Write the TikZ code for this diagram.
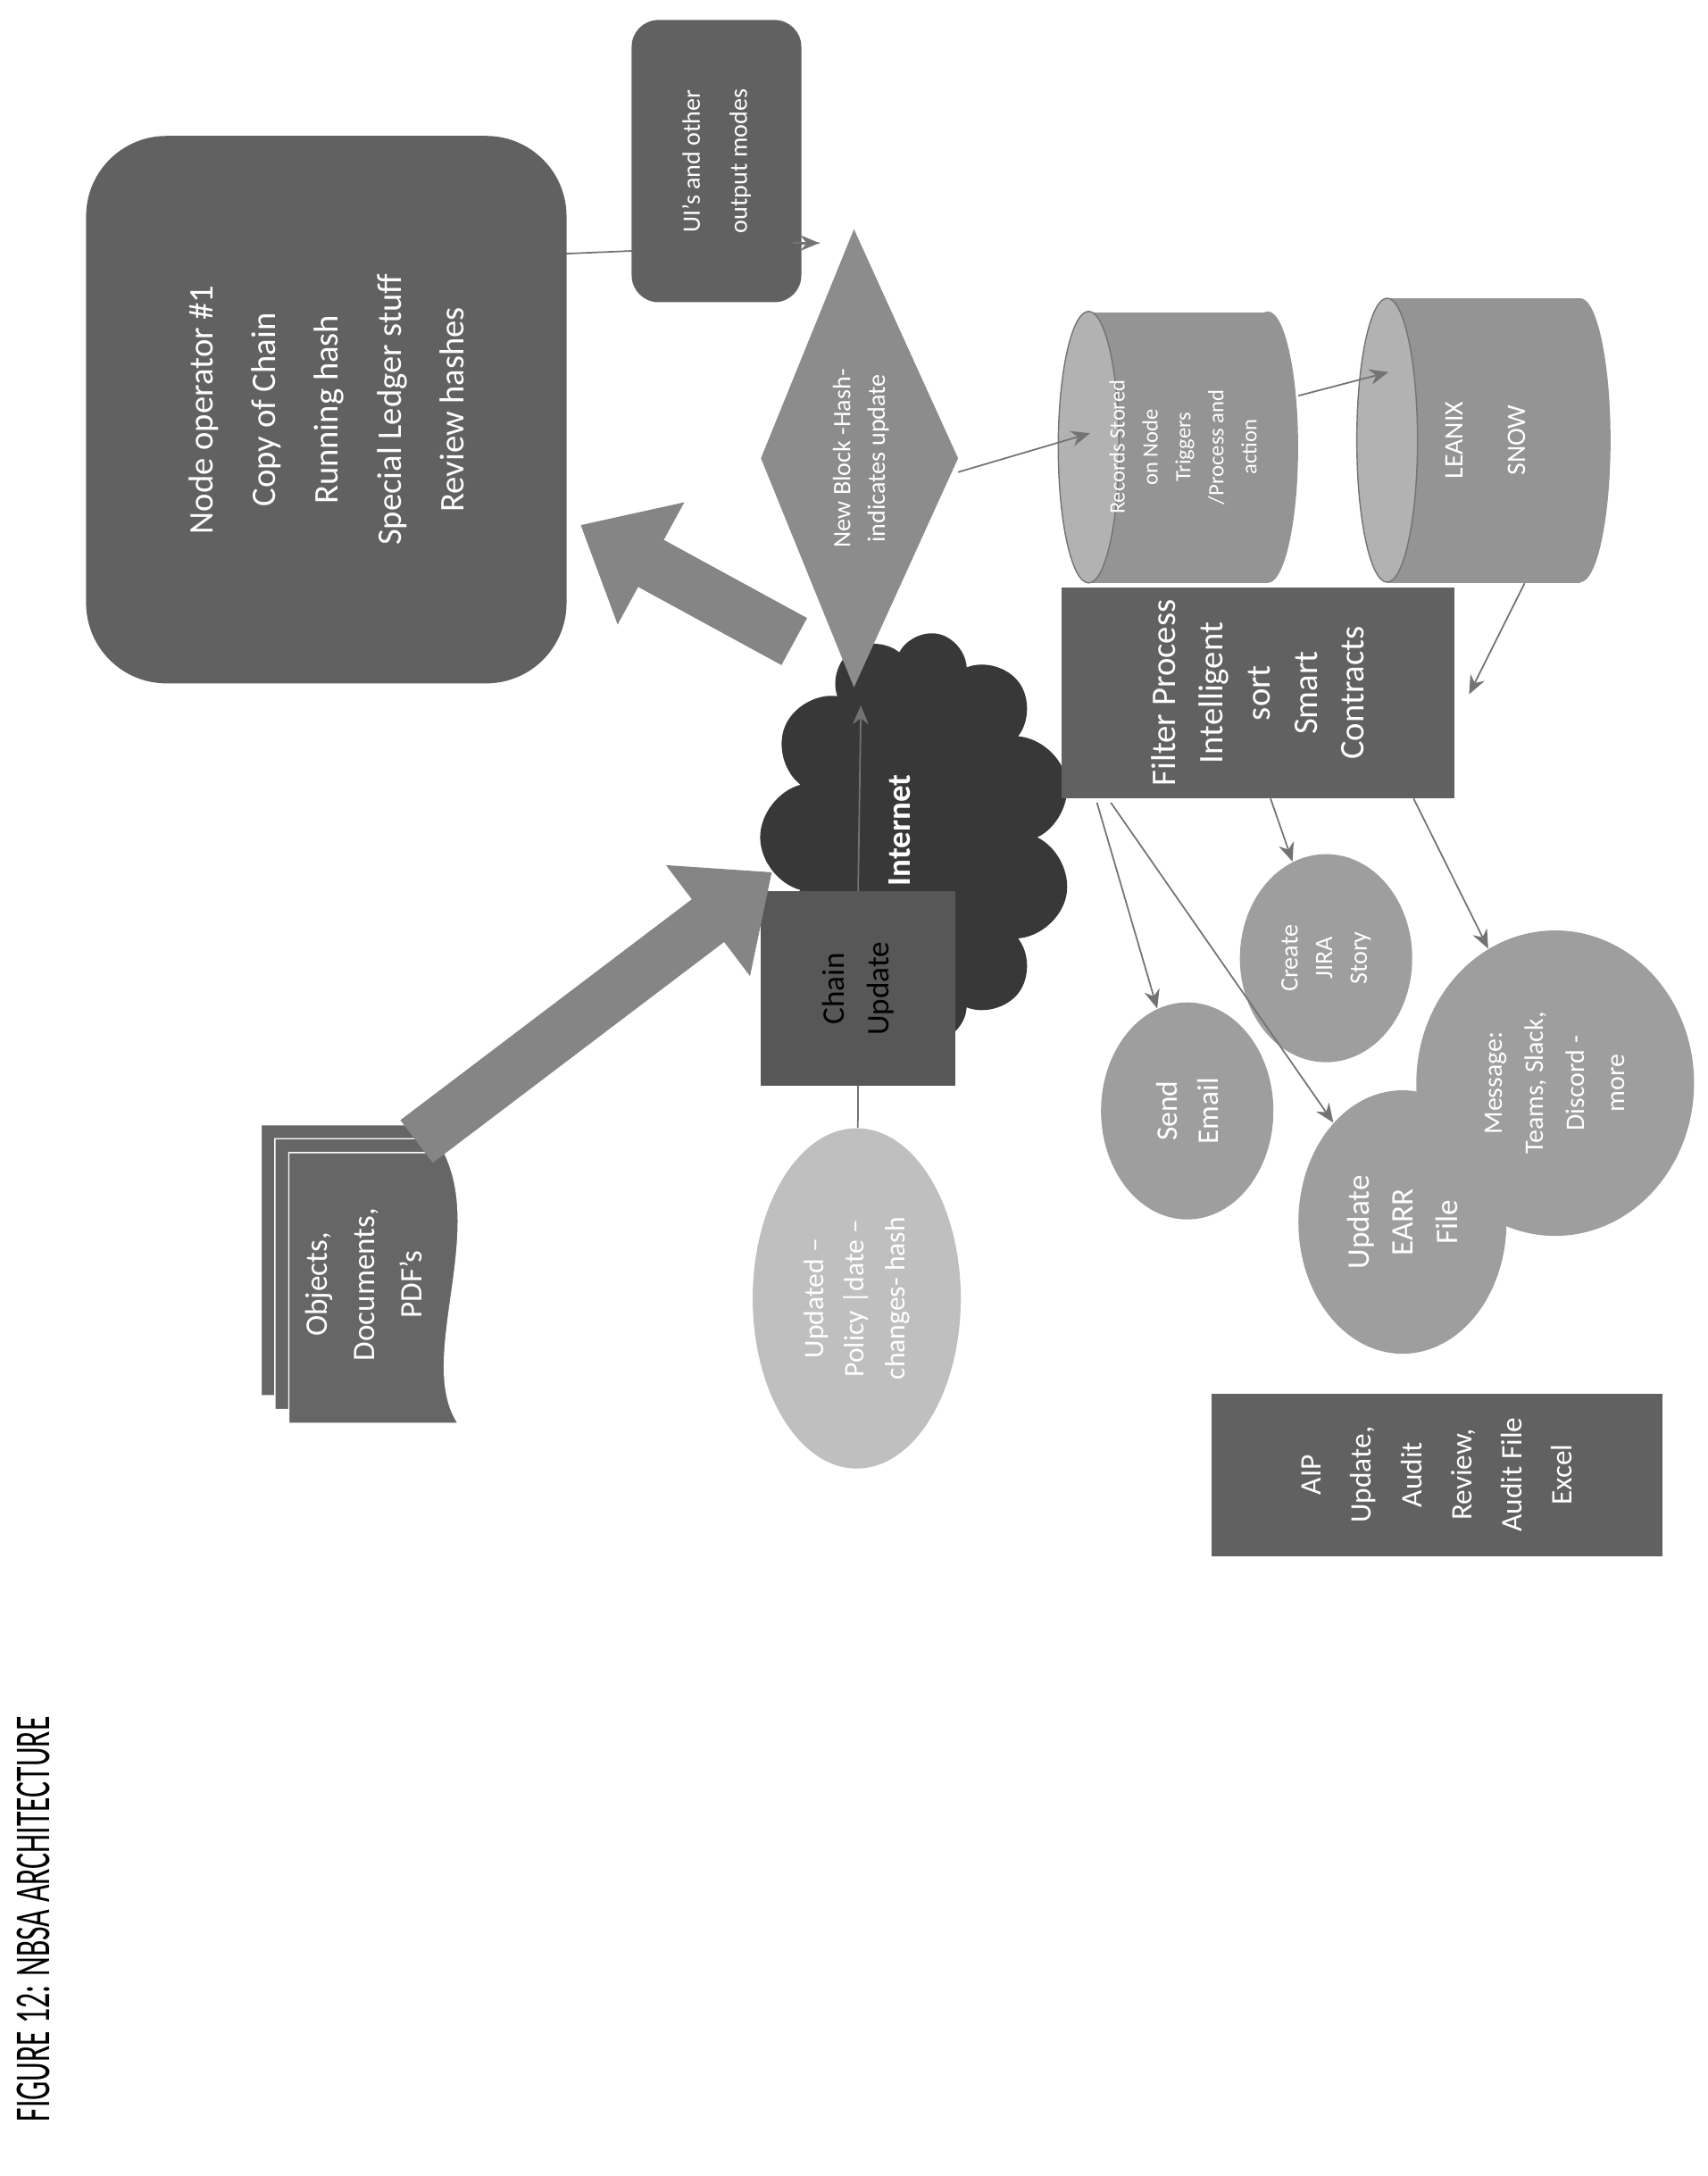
\documentclass[tikz,border=0pt]{standalone}
\usepackage{fontspec}
\setmainfont{Carlito}
\newfontfamily\capfont[FakeStretch=0.6]{Carlito}
\usetikzlibrary{shapes.geometric,shapes.symbols,arrows.meta,backgrounds}

\tikzset{
  box/.style={draw=none,fill=black!62,text=white,rotate=90,align=center,inner sep=2pt},
  blob/.style={ellipse,draw=none,fill=black!38,text=white,rotate=90,align=center,inner sep=1pt},
  link/.style={draw=black!55,line width=0.5pt,-{Stealth[length=6pt,width=5pt]}},
  fatarrow/.style={draw=black!48,line width=0.6cm,-{Triangle[length=0.9cm,width=1.5cm]}},
}

\begin{document}
\begin{tikzpicture}[x=0.01555cm,y=-0.01555cm]
    \useasboundingbox (0,0) rectangle (1230,1567);

    % cloud under everything
    \node[cloud,cloud puffs=11,fill=black!78,minimum width=4.6cm,minimum height=3.5cm,
          rotate=90] (cloud) at (660,603) {};
    \node[rotate=90,text=white,font=\fontsize{10.5}{13}\selectfont\bfseries] (internet) at (648,598) {Internet};

    % node operator and output modes
    \node[box,rounded corners=0.9cm,minimum width=6.13cm,minimum height=5.38cm,
          font=\fontsize{11}{20}\selectfont] (nodeop) at (235,295)
          {Node operator \#1\\Copy of Chain\\Running hash\\Special Ledger stuff\\Review hashes};
    \node[box,rounded corners=0.3cm,minimum width=3.16cm,minimum height=1.9cm,
          font=\fontsize{8}{15}\selectfont] (ui) at (516,116) {UI's and other\\output modes};

    % new block
    \fill[black!45] (615,165) -- (690,330) -- (615,495) -- (548,330) -- cycle;
    \node[rotate=90,align=center,text=white,font=\fontsize{8}{11}\selectfont] (newblock) at (620,330)
          {New Block -Hash-\\indicates update};

    % chain update
    \node[box,fill=black!66,text=black,minimum width=2.18cm,minimum height=2.18cm,
          font=\fontsize{10}{14}\selectfont] (chain) at (618,712) {Chain\\Update};

    % documents
    \foreach \d in {0,10,20} {
      \fill[black!60,draw=white,line width=0.4pt] (188+\d,810+\d) -- (300+\d,810+\d)
          .. controls (330+\d,870+\d) and (280+\d,960+\d) .. (310+\d,1005+\d)
          -- (188+\d,1005+\d) -- cycle;
    }
    \node[rotate=90,align=center,text=white,font=\fontsize{10}{15}\selectfont] (docs) at (262,925)
          {Objects,\\Documents,\\PDF's};

    \node[blob,fill=black!25,minimum width=3.81cm,minimum height=2.33cm,
          font=\fontsize{9}{13}\selectfont] (policy) at (617,935)
          {Updated --\\Policy |date --\\changes- hash};

    % stored records
    \fill[black!42] (784,225) rectangle (913,420);
    \fill[black!42] (913,322) ellipse [x radius=0.34cm,y radius=1.52cm];
    \filldraw[fill=black!30,draw=black!55] (784,322) ellipse [x radius=0.34cm,y radius=1.52cm];
    \node[rotate=90,align=center,text=white,font=\fontsize{7}{10.5}\selectfont] (records) at (852,322)
          {Records Stored\\on Node\\Triggers\\/Process and\\action};

    \fill[black!42] (999,215) rectangle (1138,420);
    \fill[black!42] (1138,317) ellipse [x radius=0.34cm,y radius=1.59cm];
    \filldraw[fill=black!30,draw=black!55] (999,317) ellipse [x radius=0.34cm,y radius=1.59cm];
    \node[rotate=90,align=center,text=white,font=\fontsize{8.5}{20}\selectfont] (leanix) at (1070,317)
          {LEANIX\\SNOW};

    % filter and actions
    \node[box,minimum width=2.36cm,minimum height=4.4cm,
          font=\fontsize{11}{15}\selectfont] (filter) at (906,499)
          {Filter Process\\Intelligent\\sort\\Smart\\Contracts};
    \node[blob,minimum width=2.43cm,minimum height=1.93cm,font=\fontsize{9.5}{13}\selectfont] (email) at (855,800) {Send\\Email};
    \node[blob,minimum width=2.33cm,minimum height=1.93cm,font=\fontsize{8}{11}\selectfont] (jira) at (955,690) {Create\\JIRA\\Story};
    \node[blob,minimum width=3.42cm,minimum height=3.11cm,font=\fontsize{8.5}{13}\selectfont] (message) at (1120,780) {Message:\\Teams, Slack,\\Discord -\\more};
    \node[blob,minimum width=2.95cm,minimum height=2.33cm,font=\fontsize{10}{14}\selectfont] (earr) at (1010,880) {Update\\EARR\\File};
    \node[box,minimum width=1.82cm,minimum height=5.05cm,font=\fontsize{9.5}{16}\selectfont] (aip) at (1035,1062)
          {AIP\\Update,\\Audit\\Review,\\Audit File\\Excel};

    % caption
    \node[rotate=90,font=\capfont\fontsize{16}{18}\selectfont] (caption) at (24,1382) {FIGURE 12: NBSA ARCHITECTURE};

    % connector ends
    \coordinate (opout) at (400,183);
    \coordinate (uitip) at (590,175);
    \coordinate (blockright) at (690,340);
    \coordinate (blockbottom) at (620,508);
    \coordinate (recin) at (785,312);
    \coordinate (recout) at (935,285);
    \coordinate (leanin) at (1000,268);
    \coordinate (leanout) at (1098,420);
    \coordinate (filterin) at (1058,500);
    \coordinate (docsout) at (300,822);
    \coordinate (cloudin) at (556,628);
    \coordinate (cloudout) at (572,462);
    \coordinate (nodeopin) at (418,378);

    \begin{pgfonlayer}{background}
      \draw[link,-] (opout) -- (uitip);
    \end{pgfonlayer}
    \draw[link] ([xshift=-0.3cm]uitip) -- (uitip);
    \draw[fatarrow] (docsout) -- (cloudin);
    \draw[fatarrow] (cloudout) -- (nodeopin);
    \draw[link] (blockright) -- (recin);
    \draw[link] (recout) -- (leanin);
    \draw[link] (leanout) -- (filterin);
    \draw[link] (chain) ++(0,-70) -- (blockbottom);
    \draw[link,-] (chain) ++(0,70) -- (policy);
    \draw[link] (790,578) -- (email);
    \draw[link] (800,578) -- (earr);
    \draw[link] (915,575) -- (jira);
    \draw[link] (1018,575) -- (message);
\end{tikzpicture}
\end{document}
